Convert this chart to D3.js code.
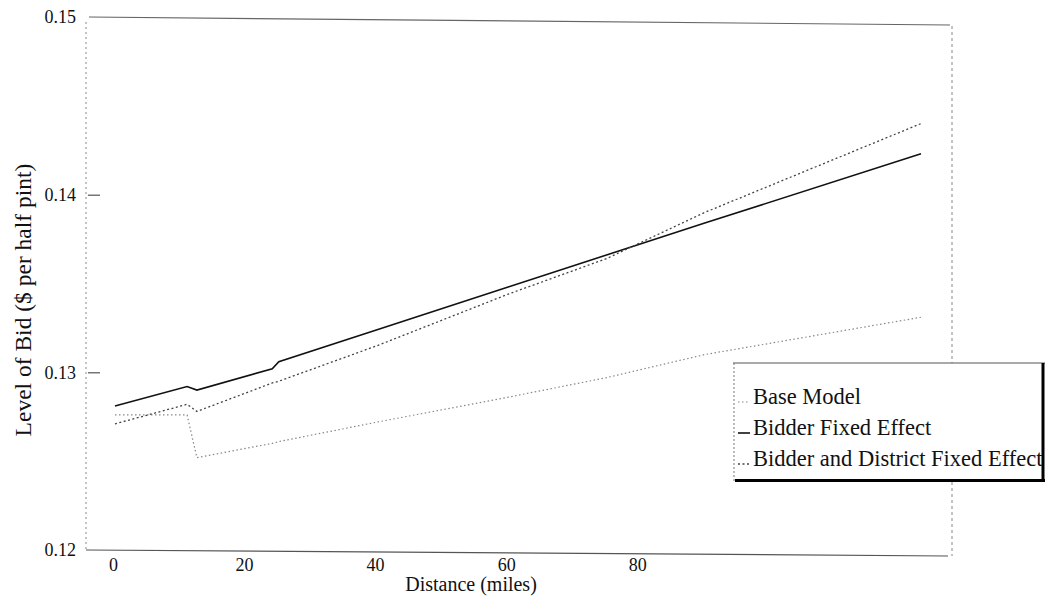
<!DOCTYPE html>
<html lang="en">
<head>
	<meta charset="utf-8">
	<title>Level of Bid vs Distance</title>
	<script src="https://cdnjs.cloudflare.com/ajax/libs/d3/7.8.5/d3.min.js"></script>
	<style>
	body {
		margin: 0;
		background-color: #ffffff;
	}
	svg text {
		font-family: "Liberation Serif", "DejaVu Serif", serif;
		fill: #111;
	}
	</style>
</head>
<body>
<svg id="chart" width="1049" height="613"></svg>
<script>
// values
var distance = [0, 11, 12.5, 24, 25, 40, 60, 75, 90, 123];
var baseModel = [0.1276, 0.1276, 0.1252, 0.1260, 0.1261, 0.1272, 0.1286, 0.1297, 0.1310, 0.1331];
var bidderFE = [0.1281, 0.1292, 0.1290, 0.1302, 0.1306, 0.1324, 0.1348, 0.1366, 0.1384, 0.1423];
var bidderDistrictFE = [0.1271, 0.1282, 0.1278, 0.1294, 0.1295, 0.1315, 0.1344, 0.1364, 0.1390, 0.1440];
var xTicks = [0, 20, 40, 60, 80];
var yTicks = [0.12, 0.13, 0.14, 0.15];
var seriesNames = ['Base Model', 'Bidder Fixed Effect', 'Bidder and District Fixed Effect'];

var svg = d3.select('#chart');

var x = d3.scaleLinear().domain([0, 123]).range([115, 921]);
var y = d3.scaleLinear().domain([0.12, 0.15]).range([550, 17]);

// plot frame (the scan is a little tilted)
svg.append('line').attr('x1', 89).attr('y1', 17).attr('x2', 950).attr('y2', 25)
	.attr('stroke', '#666').attr('stroke-width', 1.2);
svg.append('line').attr('x1', 86).attr('y1', 550).attr('x2', 948).attr('y2', 556)
	.attr('stroke', '#555').attr('stroke-width', 1.2);
svg.append('line').attr('x1', 86).attr('y1', 22).attr('x2', 86).attr('y2', 550)
	.attr('stroke', '#888').attr('stroke-width', 1).attr('stroke-dasharray', '2,3');
svg.append('line').attr('x1', 952).attr('y1', 26).attr('x2', 952).attr('y2', 556)
	.attr('stroke', '#888').attr('stroke-width', 1).attr('stroke-dasharray', '3,3');

// y axis
var yAxis = svg.append('g')
	.attr('transform', 'translate(86,0)')
	.call(d3.axisLeft(y).tickValues(yTicks).tickFormat(d3.format('.2f')).tickSize(0).tickPadding(10));
yAxis.select('.domain').remove();
yAxis.selectAll('text').style('font-size', '18px');
yAxis.selectAll('.tick').filter(function (d) { return d > 0.12 && d < 0.15; })
	.append('line').attr('x1', 2).attr('x2', 14).attr('stroke', '#333');

// x axis (labels only)
var xAxis = svg.append('g')
	.attr('transform', 'translate(-2,555)')
	.call(d3.axisBottom(x).tickValues(xTicks).tickFormat(d3.format('d')).tickSize(0).tickPadding(3));
xAxis.select('.domain').remove();
xAxis.selectAll('text').style('font-size', '18px');

// axis titles
svg.append('text')
	.attr('x', 471).attr('y', 591)
	.attr('text-anchor', 'middle')
	.style('font-size', '20px')
	.text('Distance (miles)');
svg.append('text')
	.attr('transform', 'translate(31,300) rotate(-90)')
	.attr('text-anchor', 'middle')
	.style('font-size', '23.5px')
	.text('Level of Bid ($ per half pint)');

// lines
var styles = [
	{data: baseModel, stroke: '#888', width: 1.2, dash: '1.5,2.5'},
	{data: bidderFE, stroke: '#111', width: 1.6, dash: null},
	{data: bidderDistrictFE, stroke: '#444', width: 1.3, dash: '2,2.5'}
];

var line = d3.line()
	.x(function (d) { return x(d[0]); })
	.y(function (d) { return y(d[1]); });

styles.forEach(function (s) {
	svg.append('path')
		.datum(d3.zip(distance, s.data))
		.attr('fill', 'none')
		.attr('stroke', s.stroke)
		.attr('stroke-width', s.width)
		.attr('stroke-dasharray', s.dash)
		.attr('d', line);
});

// legend
var lg = svg.append('g');
lg.append('rect').attr('x', 733).attr('y', 363).attr('width', 311).attr('height', 118)
	.attr('fill', '#fff').attr('stroke', 'none');
lg.append('line').attr('x1', 733).attr('y1', 363).attr('x2', 1045).attr('y2', 363)
	.attr('stroke', '#555').attr('stroke-width', 1);
lg.append('line').attr('x1', 734).attr('y1', 363).attr('x2', 734).attr('y2', 481)
	.attr('stroke', '#777').attr('stroke-width', 1).attr('stroke-dasharray', '2,2');
lg.append('line').attr('x1', 1043).attr('y1', 363).attr('x2', 1043).attr('y2', 482)
	.attr('stroke', '#000').attr('stroke-width', 3);
lg.append('line').attr('x1', 735).attr('y1', 480.5).attr('x2', 1045).attr('y2', 480.5)
	.attr('stroke', '#000').attr('stroke-width', 3);

seriesNames.forEach(function (name, i) {
	var yy = 397 + i * 31;
	lg.append('line')
		.attr('x1', 738).attr('x2', 750).attr('y1', yy + 5).attr('y2', yy + 5)
		.attr('stroke', styles[i].stroke)
		.attr('stroke-width', styles[i].width)
		.attr('stroke-dasharray', styles[i].dash);
	lg.append('text')
		.attr('x', 753).attr('y', yy + 7)
		.style('font-size', '22.5px')
		.text(name);
});
</script>
</body>
</html>
